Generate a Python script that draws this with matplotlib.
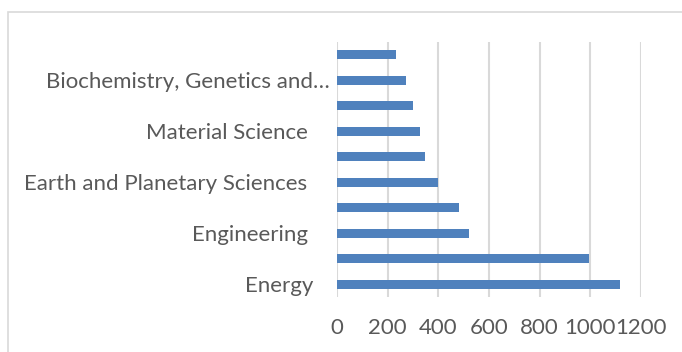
import matplotlib.pyplot as plt
from matplotlib.patches import Rectangle

# subject areas, bottom to top; Excel only prints every other label
labels = ["Energy", "", "Engineering ", "", "Earth and Planetary Sciences ",
          "", "Material Science ", "", "Biochemistry, Genetics and\u2026", ""]
counts = [1116, 996, 520, 483, 399, 348, 329, 302, 274, 232]
xticks = [0, 200, 400, 600, 800, 1000, 1200]

plt.rcParams['font.family'] = ['Lato', 'DejaVu Sans']
txt = '#595959'
grid = '#d9d9d9'

fig = plt.figure(figsize=(6.82, 3.52), dpi=100)
ax = fig.add_axes([0.494, 0.156, 0.446, 0.725])

y = range(len(counts))
ax.barh(y, counts, height=0.36, color='#4f81bd', zorder=3)

ax.set_xlim(0, 1200)
ax.set_ylim(-0.5, len(counts) - 0.5)
ax.set_xticks(xticks)
ax.set_xticklabels([str(v) for v in xticks], fontsize=16, color=txt)
ax.set_yticks(list(y))
ax.set_yticklabels(labels, fontsize=16, color=txt)
ax.tick_params(axis='both', length=0)
ax.tick_params(axis='x', pad=15)
ax.tick_params(axis='y', pad=17)
ax.yaxis.get_major_ticks()[8].set_pad(5)

ax.grid(axis='x', color=grid, linewidth=1.5, zorder=0)
for s in ax.spines.values():
    s.set_visible(False)

# chart frame
fig.add_artist(Rectangle((8 / 682, -0.05), 1.0, 1 - 12 / 352 + 0.05,
                         transform=fig.transFigure, fill=False,
                         edgecolor=grid, linewidth=1.2))

fig.savefig('out.png', dpi=100)
